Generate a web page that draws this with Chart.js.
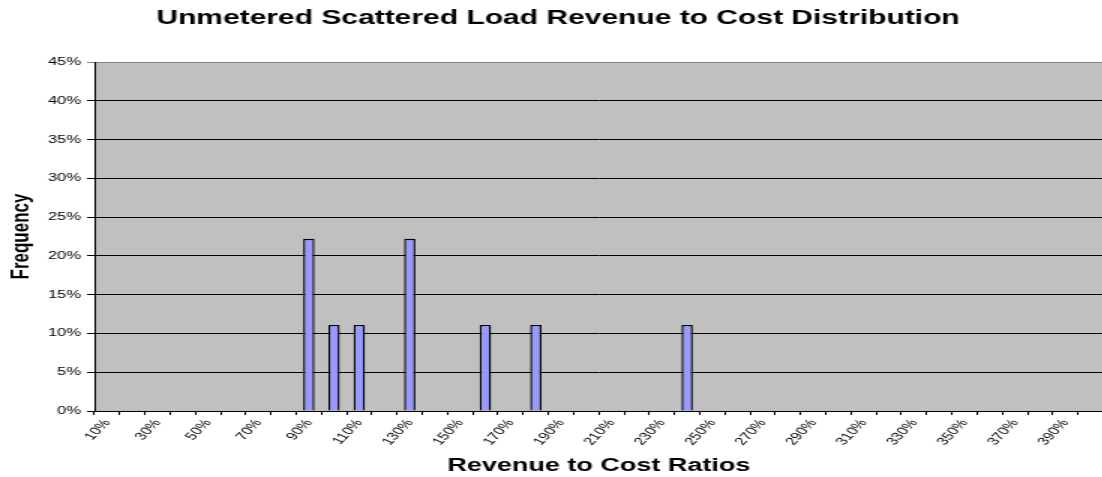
<!DOCTYPE html>
<html>
<head>
<meta charset="utf-8">
<script src="https://cdn.jsdelivr.net/npm/chart.js@4.4.0/dist/chart.umd.min.js"></script>
<style>
    html, body { margin: 0; padding: 0; overflow: hidden; background: #fff; }
    /* the original picture is stretched sideways, so draw narrow and stretch */
    #wrap { width: 740px; height: 477px; transform: scaleX(1.5); transform-origin: 0 0; }
</style>
</head>
<body>
<div id="wrap"><canvas id="myChart" width="740" height="477"></canvas></div>
<script>
var ratioLabels = ['10%', '20%', '30%', '40%', '50%', '60%', '70%', '80%', '90%', '100%',
    '110%', '120%', '130%', '140%', '150%', '160%', '170%', '180%', '190%', '200%',
    '210%', '220%', '230%', '240%', '250%', '260%', '270%', '280%', '290%', '300%',
    '310%', '320%', '330%', '340%', '350%', '360%', '370%', '380%', '390%', '400%'];

// frequency in percent (9 customers: 2/9 and 1/9)
var frequency = [0, 0, 0, 0, 0, 0, 0, 0, 22.2, 11.1,
    11.1, 0, 22.2, 0, 0, 11.1, 0, 11.1, 0, 0,
    0, 0, 0, 11.1, 0, 0, 0, 0, 0, 0,
    0, 0, 0, 0, 0, 0, 0, 0, 0, 0];

var yMin = 0;
var yMax = 45;
var yStep = 5;

var plotBg = {
    id: 'plotBg',
    beforeDraw: function (chart) {
        var a = chart.chartArea;
        var c = chart.ctx;
        c.save();
        c.fillStyle = '#C0C0C0';
        c.fillRect(a.left, a.top, a.right - a.left, a.bottom - a.top);
        c.restore();
    }
};

const ctx = document.getElementById('myChart');
var xx = new Chart(ctx, {
    type: 'bar',
    data: {
        labels: ratioLabels,
        datasets: [{
            label: 'Frequency',
            data: frequency,
            backgroundColor: '#9999FF',
            borderColor: '#000000',
            borderWidth: 1.4,
            barPercentage: 0.45,
            categoryPercentage: 1
        }]
    },
    options: {
        responsive: false,
        animation: false,
        devicePixelRatio: 1,
        layout: { padding: { left: 4, right: 0, top: 0, bottom: 0 } },
        plugins: {
            legend: { display: false },
            tooltip: { enabled: false },
            title: {
                display: true,
                text: 'Unmetered Scattered Load Revenue to Cost Distribution',
                color: '#000',
                font: { family: 'Arial, "Liberation Sans"', size: 20, weight: 'bold' },
                padding: { top: 6, bottom: 32 }
            }
        },
        scales: {
            x: {
                grid: {
                    drawOnChartArea: false,
                    offset: true,
                    color: '#000',
                    tickLength: 4
                },
                border: { color: '#000', width: 1 },
                ticks: {
                    autoSkip: false,
                    maxRotation: 56,
                    minRotation: 56,
                    padding: 2,
                    color: '#000',
                    font: { family: 'Arial, "Liberation Sans"', size: 11 },
                    callback: function (v, i) {
                        return i % 2 == 0 ? ratioLabels[i] : '';
                    }
                },
                title: {
                    display: true,
                    text: 'Revenue to Cost Ratios',
                    color: '#000',
                    font: { family: 'Arial, "Liberation Sans"', size: 18, weight: 'bold' },
                    padding: { top: 4, bottom: 0 }
                },
                afterFit: function (scale) { scale.height = 66; }
            },
            y: {
                min: yMin,
                max: yMax,
                ticks: {
                    stepSize: yStep,
                    padding: 4,
                    color: '#000',
                    font: { family: 'Arial, "Liberation Sans"', size: 11 },
                    callback: function (v) { return v + '%'; }
                },
                grid: {
                    color: function (c) { return c.tick && c.tick.value == yMax ? '#808080' : '#000'; },
                    tickLength: 5
                },
                border: { color: '#000', width: 1 },
                title: {
                    display: true,
                    text: 'Frequency',
                    color: '#000',
                    font: { family: 'Arial, "Liberation Sans"', size: 17, weight: 'bold' },
                    padding: 0
                },
                afterFit: function (scale) { scale.width = 59; }
            }
        }
    },
    plugins: [plotBg]
});
</script>
</body>
</html>
